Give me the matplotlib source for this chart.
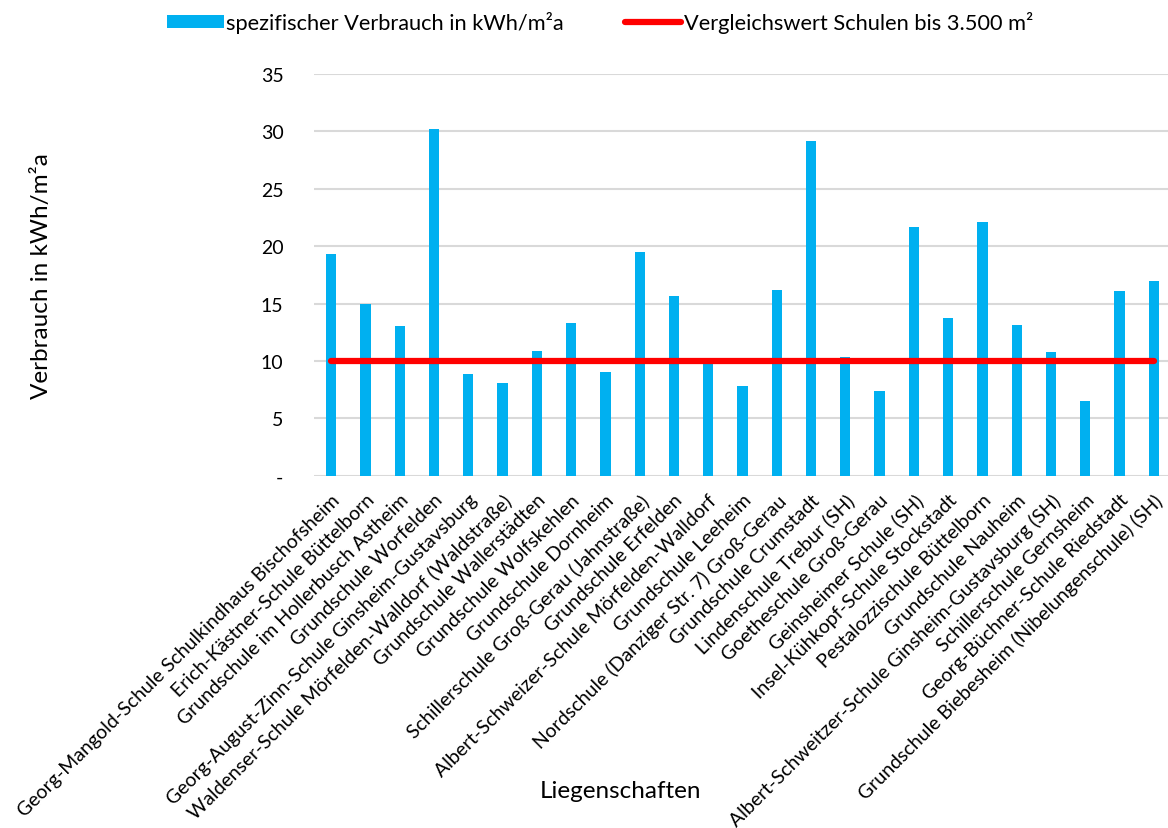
import matplotlib
matplotlib.use("Agg")
import matplotlib.pyplot as plt
from matplotlib.ticker import FuncFormatter, MultipleLocator
from matplotlib.lines import Line2D
from matplotlib.patches import Patch

plt.rcParams['font.family'] = ['Lato', 'DejaVu Sans']

categories = [
    "Georg-Mangold-Schule Schulkindhaus Bischofsheim",
    "Erich-Kästner-Schule Büttelborn",
    "Grundschule im Hollerbusch Astheim",
    "Grundschule Worfelden",
    "Georg-August-Zinn-Schule Ginsheim-Gustavsburg",
    "Waldenser-Schule Mörfelden-Walldorf (Waldstraße)",
    "Grundschule Wallerstädten",
    "Grundschule Wolfskehlen",
    "Grundschule Dornheim",
    "Schillerschule Groß-Gerau (Jahnstraße)",
    "Grundschule Erfelden",
    "Albert-Schweizer-Schule Mörfelden-Walldorf",
    "Grundschule Leeheim",
    "Nordschule (Danziger Str. 7) Groß-Gerau",
    "Grundschule Crumstadt",
    "Lindenschule Trebur (SH)",
    "Goetheschule Groß-Gerau",
    "Geinsheimer Schule (SH)",
    "Insel-Kühkopf-Schule Stockstadt",
    "Pestalozzischule Büttelborn",
    "Grundschule Nauheim",
    "Albert-Schweitzer-Schule Ginsheim-Gustavsburg (SH)",
    "Schillerschule Gernsheim",
    "Georg-Büchner-Schule Riedstadt",
    "Grundschule Biebesheim (Nibelungenschule) (SH)",
]
verbrauch = [19.3, 15.0, 13.0, 30.2, 8.9, 8.1, 10.9, 13.3, 9.0, 19.5,
             15.7, 9.8, 7.8, 16.2, 29.2, 10.3, 7.4, 21.7, 13.7, 22.1,
             13.1, 10.8, 6.5, 16.1, 17.0]
vergleichswert = [10.0] * len(categories)

series_bar_label = "spezifischer Verbrauch in kWh/m²a"
series_line_label = "Vergleichswert Schulen bis 3.500 m²"
y_label = "Verbrauch in kWh/m²a"
x_label = "Liegenschaften"

BLUE = "#00B0F0"
RED = "#FF0000"
GRID = "#D9D9D9"

W, H = 1168, 829
fig = plt.figure(figsize=(W / 100, H / 100), dpi=100)
ax = fig.add_axes([314 / W, 1 - 476.7 / H, (1171 - 314) / W, (476.7 - 75) / H])

x = list(range(len(categories)))
ax.bar(x, verbrauch, width=0.3, color=BLUE, zorder=2)
ax.plot(x, vergleichswert, color=RED, linewidth=4.5, solid_capstyle='round', zorder=3)

ax.set_xlim(-0.5, len(categories) - 0.5)
ax.set_ylim(0, 35)
ax.yaxis.set_major_locator(MultipleLocator(5))
ax.yaxis.set_major_formatter(FuncFormatter(lambda v, p: "-" if v == 0 else f"{v:.0f}"))
ax.grid(axis='y', color=GRID, linewidth=1.5, zorder=0)
ax.set_axisbelow(True)
for s in ax.spines.values():
    s.set_visible(False)
ax.tick_params(axis='y', length=0, pad=22, labelsize=14)
ax.tick_params(axis='x', length=0, pad=11, labelsize=14)
ax.set_xticks(x)
ax.set_xticklabels(categories, rotation=45, ha='right', rotation_mode='anchor')

fig.text(42 / W, 1 - 276 / H, y_label, rotation=90, ha='center', va='center', fontsize=17.5)
fig.text(620 / W, 1 - 792 / H, x_label, ha='center', va='center', fontsize=17.5)

handles = [Patch(facecolor=BLUE, edgecolor='none', label=series_bar_label),
           Line2D([0], [0], color=RED, linewidth=4.5, solid_capstyle='round', label=series_line_label)]
fig.legend(handles=handles, loc='center', bbox_to_anchor=(600 / W, 1 - 23 / H), ncol=2,
           frameon=False, fontsize=15.7, handlelength=2.6, handleheight=0.55,
           handletextpad=0.1, columnspacing=2.8)

fig.savefig("out.png", dpi=100)
